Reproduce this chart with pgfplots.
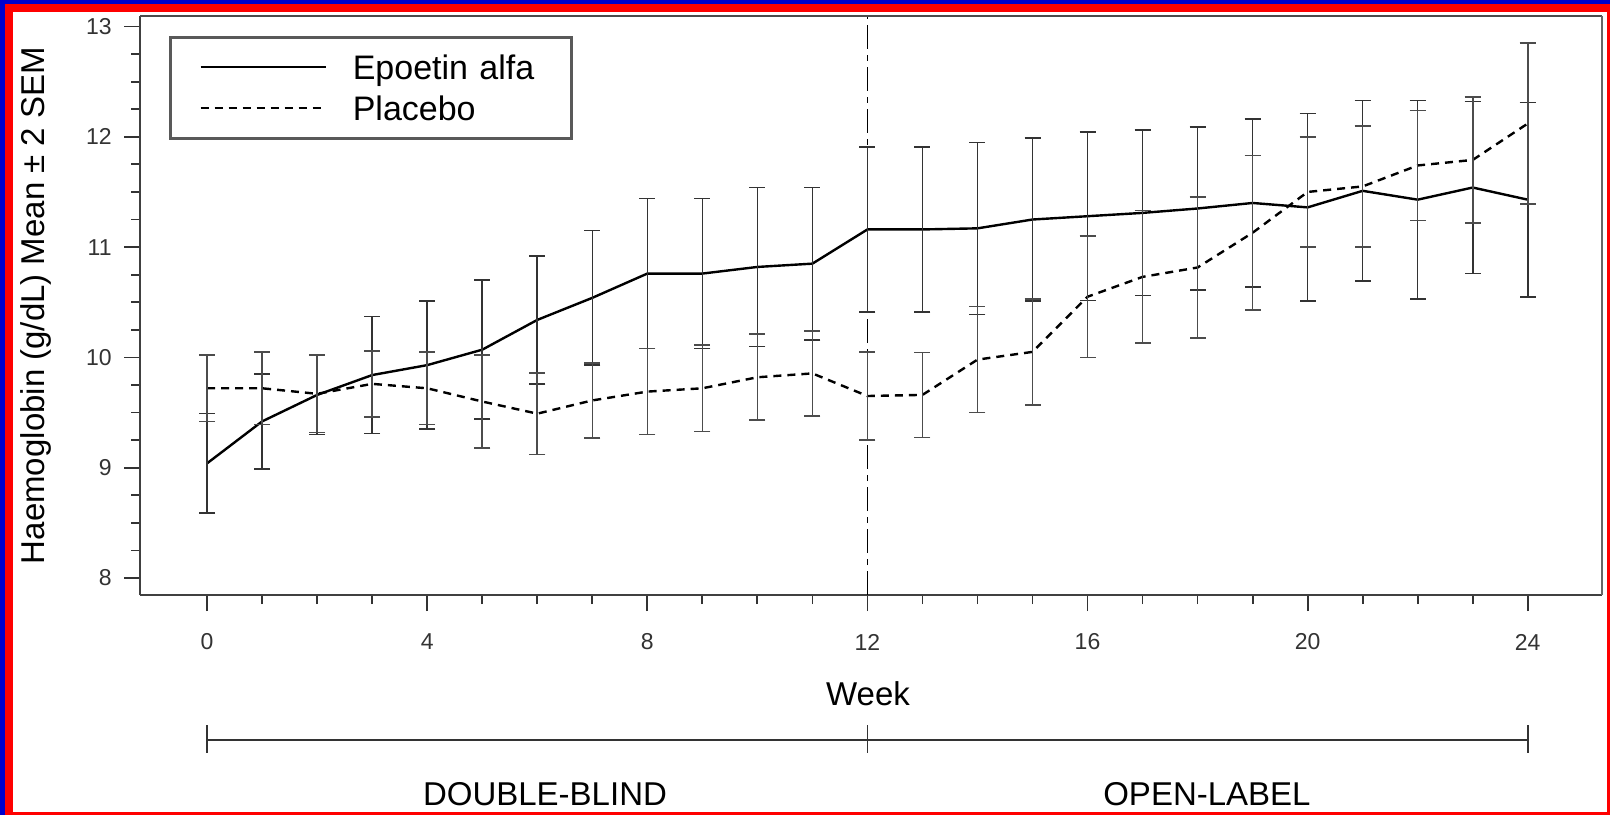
\documentclass[border=0pt]{standalone}
\usepackage{pgfplots}
\usepackage{pgfplotstable}
\pgfplotsset{compat=1.18}
\usepackage{fontspec}
\setmainfont{Liberation Sans}
\definecolor{frameblue}{RGB}{0,0,205}
\definecolor{framered}{RGB}{255,0,0}

\pgfplotstableread{
w m e
0 9.04 0.45
1 9.42 0.43
2 9.66 0.36
3 9.84 0.53
4 9.93 0.58
5 10.07 0.63
6 10.34 0.58
7 10.54 0.61
8 10.76 0.68
9 10.76 0.68
10 10.82 0.72
11 10.85 0.69
12 11.16 0.75
13 11.16 0.75
14 11.17 0.78
15 11.25 0.74
16 11.28 0.765
17 11.31 0.75
18 11.35 0.74
19 11.40 0.76
20 11.36 0.85
21 11.51 0.82
22 11.43 0.90
23 11.54 0.78
24 11.43 0.88
}\epo

\pgfplotstableread{
w m e
0 9.72 0.30
1 9.72 0.33
2 9.67 0.35
3 9.76 0.30
4 9.72 0.33
5 9.60 0.42
6 9.49 0.37
7 9.61 0.34
8 9.69 0.39
9 9.72 0.39
10 9.82 0.39
11 9.855 0.385
12 9.65 0.40
13 9.66 0.385
14 9.98 0.48
15 10.05 0.48
16 10.55 0.55
17 10.73 0.60
18 10.815 0.64
19 11.13 0.70
20 11.50 0.50
21 11.55 0.55
22 11.74 0.50
23 11.79 0.57
24 12.12 0.73
}\plac

\begin{document}
\begin{tikzpicture}
\useasboundingbox (0,0) rectangle (805pt,407.5pt);
\fill[white] (0,0) rectangle (805pt,407.5pt);
\begin{axis}[
  at={(70pt,110pt)}, anchor=south west,
  scale only axis, width=731pt, height=289.5pt,
  xmin=-1.22, xmax=25.35, ymin=7.846, ymax=13.095,
  axis lines=left, axis line style={-, line width=1.4pt, black!75},
  tick align=outside,
  xtick={0,4,...,24}, ytick={8,...,13},
  minor x tick num=3, minor y tick num=3,
  major tick length=8pt, minor tick length=4.5pt,
  tick style={line width=0.9pt, black!80},
  /pgf/number format/assume math mode=true,
  ticklabel style={font=\fontsize{11.5}{13}\selectfont, text=black!80},
  xticklabel style={anchor=center, yshift=-15.5pt},
  yticklabel style={anchor=east, inner sep=0pt, xshift=-6pt},
  xlabel={Week},
  xlabel style={font=\fontsize{16.5}{19}\selectfont, at={(axis description cs:0.5,0)}, anchor=center, yshift=-49.5pt, xshift=-1.5pt},
  ylabel={Haemoglobin (g/dL) Mean ± 2 SEM},
  ylabel style={font=\fontsize{16.5}{19}\selectfont, at={(axis description cs:0,0.5)}, anchor=center, yshift=52pt},
  clip=false,
  legend style={at={(0.0199,0.9655)}, anchor=north west,
    draw=black!65, line width=1.3pt, fill=white,
    inner xsep=14.5pt, inner ysep=8.5pt,
    font=\fontsize{17}{20}\selectfont,
    row sep=7.5pt, column sep=13pt,
    nodes={inner sep=0pt, text height=12.5pt, text depth=0.5pt, text width=95pt}},
  legend cell align=left,
  legend image code/.code={\draw[#1] (0pt,0pt) -- (62.5pt,0pt);},
]
\addplot[forget plot, black, line width=0.9pt, dash pattern=on 12pt off 3pt on 3pt off 3pt] coordinates {(12,7.846) (12,13.095)};
\addplot[black, line width=1.2pt, error bars/.cd, y dir=both, y explicit,
  error bar style={line width=0.8pt, black!80, solid},
  error mark options={rotate=90, mark size=4pt, line width=0.8pt, black!80, solid}]
  table[x=w, y=m, y error=e] {\epo};
\addlegendentry{Epoetin alfa}
\addplot[black, line width=1.2pt, dash pattern=on 4pt off 3pt, error bars/.cd, y dir=both, y explicit,
  error bar style={line width=0.8pt, black!70, solid},
  error mark options={rotate=90, mark size=4pt, line width=0.8pt, black!70, solid}]
  table[x=w, y=m, y error=e] {\plac};
\addlegendentry{Placebo}
\draw[black!70, line width=1pt] (rel axis cs:0,1) -- (rel axis cs:1,1);
\draw[black!60, line width=1.4pt] (rel axis cs:1,1) -- (rel axis cs:1,0);
\draw[black!80, line width=1pt] (axis cs:0,6.531) -- (axis cs:24,6.531);
\draw[black!80, line width=0.8pt] (axis cs:0,6.667) -- (axis cs:0,6.413);
\draw[black!80, line width=0.8pt] (axis cs:12,6.667) -- (axis cs:12,6.413);
\draw[black!80, line width=0.8pt] (axis cs:24,6.667) -- (axis cs:24,6.413);
\node[font=\fontsize{16.5}{19}\selectfont] at (axis cs:6.14,6.04) {DOUBLE-BLIND};
\node[font=\fontsize{16.5}{19}\selectfont] at (axis cs:18.17,6.04) {OPEN-LABEL};
\end{axis}
\fill[frameblue] (0,0) rectangle (2.3pt,407.5pt);
\fill[frameblue] (0,405.5pt) rectangle (805pt,407.5pt);
\fill[framered] (2.3pt,0) rectangle (6.3pt,405.5pt);
\fill[framered] (2.3pt,401.6pt) rectangle (805pt,405.5pt);
\fill[framered] (803.5pt,0) rectangle (805pt,401.6pt);
\fill[framered] (2.3pt,0) rectangle (805pt,1.5pt);
\end{tikzpicture}
\end{document}
